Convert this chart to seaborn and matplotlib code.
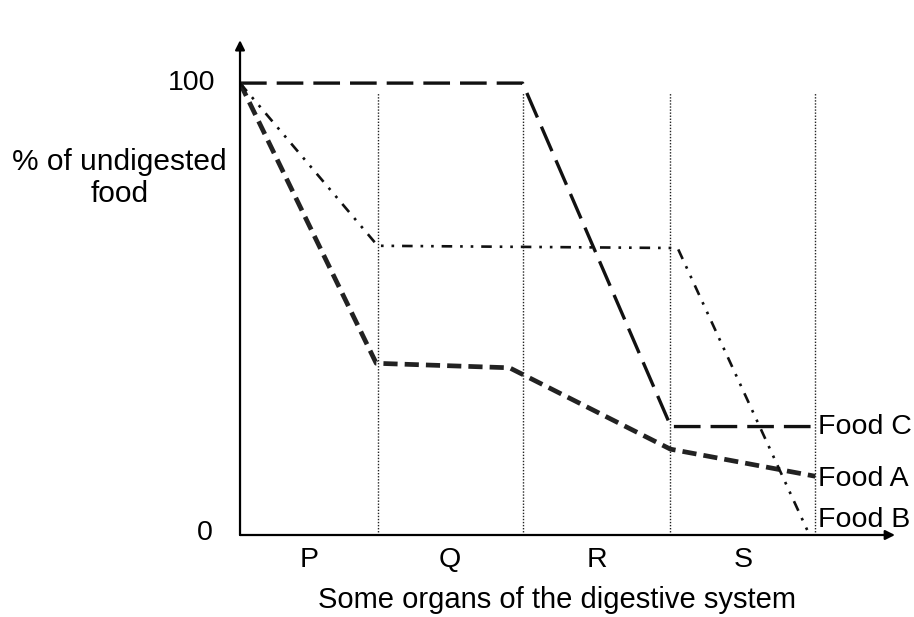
import pandas as pd
import matplotlib.pyplot as plt
import seaborn as sns

# organ boundaries along the x axis (start of P, then ends of P, Q, R, S)
boundaries = [0, 0.95, 1.95, 2.97, 3.97]
organs = ["P", "Q", "R", "S"]

food_a_x = [0, 0.94, 1.86, 2.97, 3.97]
food_a_y = [100, 38, 37, 19, 13]
food_b_x = [0, 0.95, 3.02, 3.93]
food_b_y = [100, 64, 63.5, 0]
food_c_x = [0, 1.95, 2.96, 2.97, 3.97]
food_c_y = [100, 100, 25, 24, 24]

sns.set_theme(style="white")
plt.rcParams["font.family"] = ["Liberation Sans", "DejaVu Sans"]
plt.rcParams["text.color"] = "black"

fig = plt.figure(figsize=(9.14, 6.17), dpi=100)
ax = fig.add_axes([0.2626, 0.1329, 0.7166, 0.802])

df_a = pd.DataFrame({"x": food_a_x, "y": food_a_y})
df_b = pd.DataFrame({"x": food_b_x, "y": food_b_y})
df_c = pd.DataFrame({"x": food_c_x, "y": food_c_y})

# dotted organ separators
for b in boundaries[1:]:
    ax.plot([b, b], [0, 98], color="#222222", lw=1.0, ls=(0, (1, 1.2)), zorder=1)

sns.lineplot(data=df_c, x="x", y="y", sort=False, color="#111111", lw=2.4,
             ax=ax, linestyle=(0, (8, 3)))
sns.lineplot(data=df_a, x="x", y="y", sort=False, color="#222222", lw=3.4,
             ax=ax, linestyle=(0, (3, 1.5)))
sns.lineplot(data=df_b, x="x", y="y", sort=False, color="#111111", lw=1.9,
             ax=ax, linestyle=(0, (4, 3, 1, 3, 1, 3)))

ax.set_xlim(0, 4.52)
ax.set_ylim(0, 109.5)
for s in ax.spines.values():
    s.set_visible(False)
ax.set_xticks([])
ax.set_yticks([])
ax.set_xlabel("")
ax.set_ylabel("")

# axes with arrow heads
ax.annotate("", xy=(0, 1), xycoords="axes fraction", xytext=(0, 0),
            arrowprops=dict(arrowstyle="-|>", color="black", lw=1.6,
                            mutation_scale=14, shrinkA=0, shrinkB=0))
ax.annotate("", xy=(1, 0), xycoords="axes fraction", xytext=(0, 0),
            arrowprops=dict(arrowstyle="-|>", color="black", lw=1.6,
                            mutation_scale=14, shrinkA=0, shrinkB=0))

fs = 20.5
ax.text(-0.17, 100, "100", ha="right", va="center", fontsize=fs)
ax.text(-0.19, 0.5, "0", ha="right", va="center", fontsize=fs)
ax.text(-0.83, 79, "% of undigested\nfood", ha="center", va="center",
        fontsize=21.5, linespacing=1.2)

for i, name in enumerate(organs):
    mid = (boundaries[i] + boundaries[i + 1]) / 2
    ax.text(mid, -5.5, name, ha="center", va="center", fontsize=fs)

ax.text(2.19, -14.4, "Some organs of the digestive system", ha="center",
        va="center", fontsize=21)

ax.text(3.99, food_c_y[-1], "Food C", ha="left", va="center", fontsize=fs)
ax.text(3.99, food_a_y[-1] - 0.5, "Food A", ha="left", va="center", fontsize=fs)
ax.text(3.99, 3.3, "Food B", ha="left", va="center", fontsize=fs)

fig.savefig("out.png", dpi=100, facecolor="white")
